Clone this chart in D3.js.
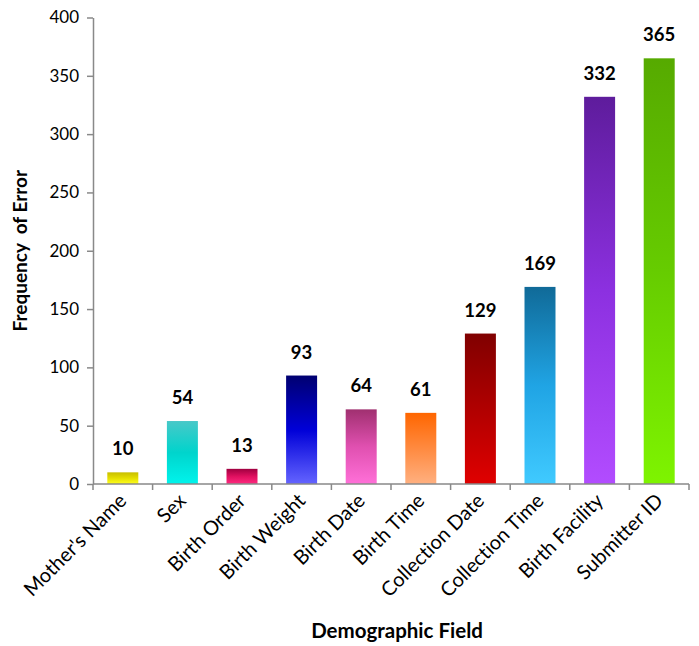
<!DOCTYPE html>
<html>
<head>
<meta charset="utf-8">
<script src="https://cdn.jsdelivr.net/npm/d3@7"></script>
<style>
  html, body { margin: 0; padding: 0; background: #fff; }
  svg { display: block; font-family: Lato, "Open Sans", sans-serif;
        font-variant-ligatures: none; font-feature-settings: "liga" 0, "dlig" 0; }
</style>
</head>
<body>
<svg id="chart" width="699" height="646"></svg>
<script>
// Categories and error counts
const fields = ["Mother's Name", "Sex", "Birth Order", "Birth Weight", "Birth Date",
                "Birth Time", "Collection Date", "Collection Time", "Birth Facility", "Submitter ID"];
const errors = [10, 54, 13, 93, 64, 61, 129, 169, 332, 365];
const yTicks = [0, 50, 100, 150, 200, 250, 300, 350, 400];

// Gradient stops per bar, top -> bottom
const gradTop = ["#c8be00", "#48c8c8", "#a00040", "#000070", "#a03070",
                 "#ff6600", "#800000", "#106a98", "#5e1c9c", "#56aa00"];
const gradMid = ["#e4de00", "#00d4cc", "#e01060", "#0000d8", "#e050b0",
                 "#ff8a40", "#b00000", "#20a4e4", "#8c30e0", "#66cc00"];
const gradBot = ["#ffff20", "#00f4ec", "#ff2a80", "#6464ff", "#ff70d8",
                 "#ffb080", "#e00000", "#40caff", "#b24cff", "#7ef400"];

const svg = d3.select("#chart");
const margin = { left: 93, right: 10, top: 17.5, bottom: 162 };
const W = 699, H = 646;
const x0 = margin.left, x1 = W - margin.right;
const y0 = H - margin.bottom, y1 = margin.top;

const x = d3.scaleBand().domain(fields).range([x0, x1]).paddingInner(0.48).paddingOuter(0.24);
const y = d3.scaleLinear().domain([0, 400]).range([y0, y1]);

const defs = svg.append("defs");
fields.forEach((f, i) => {
  const g = defs.append("linearGradient")
    .attr("id", "g" + i).attr("x1", 0).attr("y1", 0).attr("x2", 0).attr("y2", 1);
  g.append("stop").attr("offset", "0%").attr("stop-color", gradTop[i]);
  g.append("stop").attr("offset", "50%").attr("stop-color", gradMid[i]);
  g.append("stop").attr("offset", "100%").attr("stop-color", gradBot[i]);
});

// Bars
svg.append("g").selectAll("rect")
  .data(fields)
  .join("rect")
  .attr("x", d => x(d))
  .attr("width", x.bandwidth())
  .attr("y", (d, i) => y(errors[i]))
  .attr("height", (d, i) => y(0) - y(errors[i]))
  .attr("fill", (d, i) => `url(#g${i})`);

// Value labels
svg.append("g").selectAll("text")
  .data(fields)
  .join("text")
  .attr("x", d => x(d) + x.bandwidth() / 2)
  .attr("y", (d, i) => y(errors[i]) - 17)
  .attr("text-anchor", "middle")
  .attr("font-size", 18.5)
  .attr("font-weight", "bold")
  .attr("fill", "#000")
  .text((d, i) => errors[i]);

const axisColor = "#898989";

// Y axis
const yAxis = svg.append("g")
  .attr("transform", `translate(${x0},0)`)
  .call(d3.axisLeft(y).tickValues(yTicks).tickSize(6).tickPadding(8).tickSizeOuter(0));
yAxis.select(".domain").attr("stroke", axisColor).attr("stroke-width", 1.5);
yAxis.selectAll(".tick line").attr("stroke", axisColor).attr("stroke-width", 1.5);
yAxis.selectAll(".tick text").attr("font-size", 17).attr("fill", "#000")
  .attr("font-family", "Lato, sans-serif");

// X axis: ticks at category boundaries
const bounds = d3.range(fields.length + 1).map(i => x0 + i * (x1 - x0) / fields.length);
const xAxis = svg.append("g");
xAxis.append("line")
  .attr("x1", x0).attr("x2", x1).attr("y1", y0).attr("y2", y0)
  .attr("stroke", axisColor).attr("stroke-width", 1.5);
xAxis.selectAll("line.tk")
  .data(bounds)
  .join("line").attr("class", "tk")
  .attr("x1", d => d).attr("x2", d => d)
  .attr("y1", y0).attr("y2", y0 + 6)
  .attr("stroke", axisColor).attr("stroke-width", 1.5);

// Rotated category labels
xAxis.selectAll("text")
  .data(fields)
  .join("text")
  .attr("transform", d => `translate(${x(d) + x.bandwidth() / 2 + 5},${y0 + 18}) rotate(-45)`)
  .attr("text-anchor", "end")
  .attr("font-size", 20)
  .attr("fill", "#000")
  .text(d => d);

// Axis titles
svg.append("text")
  .attr("transform", `translate(${(x0 + x1) / 2 + 6},638)`)
  .attr("text-anchor", "middle")
  .attr("font-size", 20.5)
  .attr("font-weight", "bold")
  .text("Demographic Field");

svg.append("text")
  .attr("transform", `translate(27,${(y0 + y1) / 2}) rotate(-90)`)
  .attr("text-anchor", "middle")
  .attr("font-size", 19)
  .attr("font-weight", "bold")
  .attr("xml:space", "preserve")
  .text("Frequency  of Error");
</script>
</body>
</html>
